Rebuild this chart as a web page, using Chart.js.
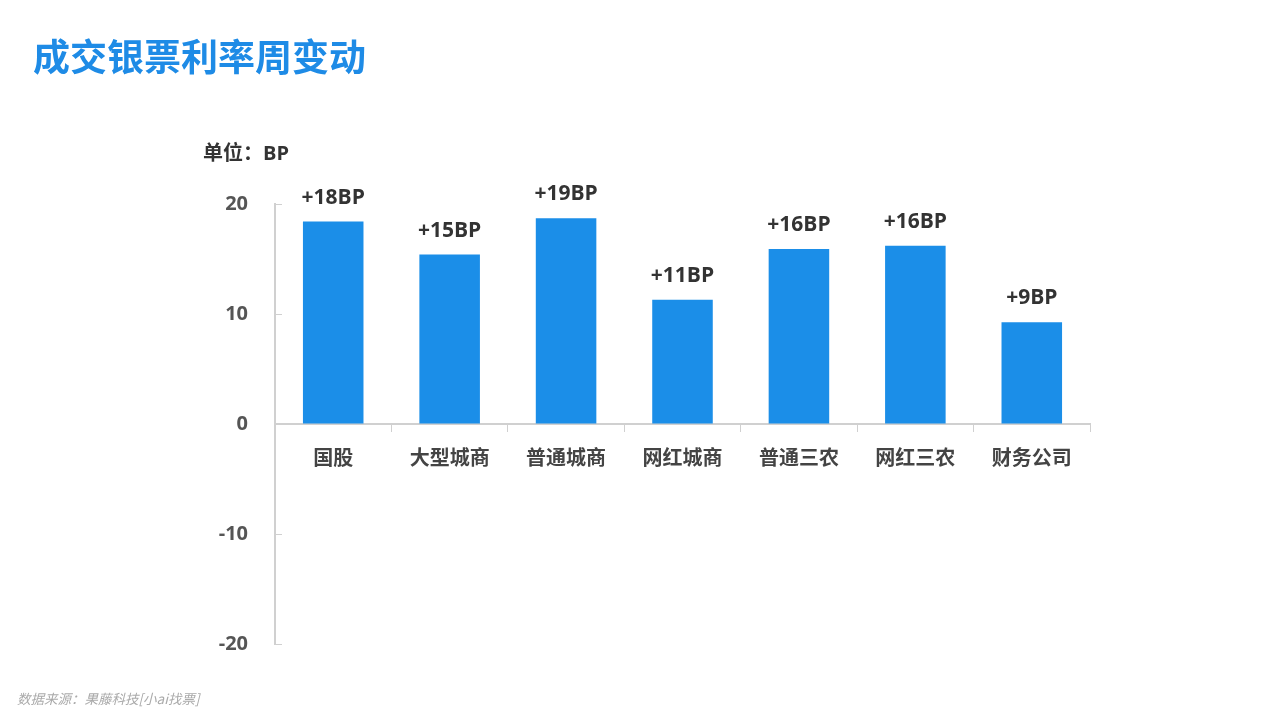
<!DOCTYPE html>
<html><head><meta charset="utf-8">
<script src="https://cdn.jsdelivr.net/npm/chart.js@4"></script>
<style>
html,body{margin:0;padding:0;background:#fff;width:1280px;height:720px;overflow:hidden;}
#wrap{position:absolute;left:0;top:0;width:1280px;height:720px;}
#title{position:absolute;left:33px;top:28px;font:bold 37px 'Noto Sans CJK SC',sans-serif;color:#1E8BE6;letter-spacing:0px;}
#unit{position:absolute;left:203px;top:137px;font:bold 20px 'Open Sans','Noto Sans CJK SC',sans-serif;color:#333;}
#src{position:absolute;left:17px;top:688px;font:italic 13.5px 'Noto Sans CJK SC',sans-serif;color:#aaa;}
</style></head>
<body>
<div id="wrap"><canvas id="c" width="1280" height="720"></canvas></div>
<div id="title">成交银票利率周变动</div>
<div id="unit">单位：BP</div>
<div id="src">数据来源：果藤科技[小ai找票]</div>
<script>
const categories = ['国股','大型城商','普通城商','网红城商','普通三农','网红三农','财务公司'];
const values = [18.4, 15.4, 18.7, 11.3, 15.9, 16.2, 9.25];
const valueLabels = ['+18BP','+15BP','+19BP','+11BP','+16BP','+16BP','+9BP'];
const yTicks = [20, 10, 0, -10, -20];

const font = "'Open Sans','Noto Sans CJK SC',sans-serif";
const axisColor = '#d0d0d0';

const plugin = {
  id: 'extras',
  afterDatasetsDraw(chart) {
    const ctx = chart.ctx;
    const meta = chart.getDatasetMeta(0);
    ctx.save();
    ctx.fillStyle = '#333';
    ctx.font = 'bold 21px ' + font;
    ctx.textAlign = 'center';
    ctx.textBaseline = 'middle';
    meta.data.forEach((bar, i) => {
      ctx.fillText(valueLabels[i], bar.x, bar.y - 24);
    });
    const y = chart.scales.y;
    ctx.strokeStyle = axisColor;
    ctx.lineWidth = 1;
    yTicks.forEach(v => {
      const py = Math.round(y.getPixelForValue(v)) + 0.5;
      ctx.beginPath();
      ctx.moveTo(y.right, py);
      ctx.lineTo(y.right + 7, py);
      ctx.stroke();
    });
    ctx.restore();
  }
};

new Chart(document.getElementById('c'), {
  type: 'bar',
  data: {
    labels: categories,
    datasets: [{
      data: values,
      backgroundColor: '#1B8EE8',
      barPercentage: 0.52,
      categoryPercentage: 1.0
    }]
  },
  options: {
    responsive: false,
    animation: false,
    devicePixelRatio: 1,
    layout: { padding: { left: 0, right: 190, top: 204, bottom: 76 } },
    plugins: { legend: { display: false }, tooltip: { enabled: false } },
    scales: {
      x: {
        position: { y: 0 },
        grid: { display: true, drawOnChartArea: false, drawTicks: true, tickLength: 7, color: axisColor, offset: true },
        border: { display: true, color: axisColor, width: 2 },
        ticks: { color: '#444', font: { family: font, size: 20, weight: 'bold' }, padding: 16 }
      },
      y: {
        min: -20, max: 20,
        afterBuildTicks(scale) { scale.ticks = yTicks.map(v => ({ value: v })); },
        afterFit(scale) { scale.width = 275; },
        grid: { display: true, drawOnChartArea: false, drawTicks: false, color: axisColor },
        border: { display: true, color: axisColor, width: 2 },
        ticks: { color: '#555', font: { family: font, size: 20, weight: 'bold' }, padding: 27 }
      }
    }
  },
  plugins: [plugin]
});
</script>
</body></html>
